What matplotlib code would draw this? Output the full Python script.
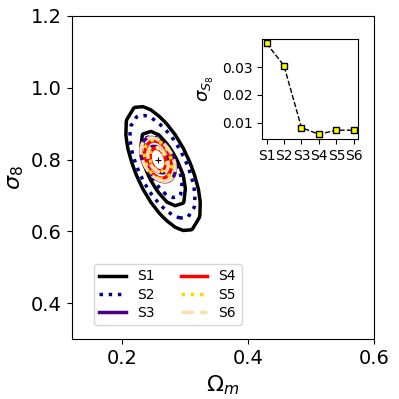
import numpy as np
import matplotlib as mpl
mpl.use('Agg')
import matplotlib.pyplot as plt
from matplotlib.lines import Line2D

# surveys and forecast errors on S8 (inset)
surveys = ['S1', 'S2', 'S3', 'S4', 'S5', 'S6']
sigma_s8 = [0.0386, 0.0305, 0.0082, 0.0058, 0.0073, 0.0073]

# gaussian contour parameters
om_mean = [0.265, 0.264, 0.257, 0.257, 0.257, 0.257]
s8_mean = [0.775, 0.780, 0.800, 0.800, 0.800, 0.800]
sig_om = [0.024, 0.021, 0.0112, 0.0085, 0.0088, 0.0110]
sig_s8 = [0.070, 0.058, 0.0250, 0.021, 0.022, 0.0245]
rho = [-0.62, -0.62, -0.4, -0.3, -0.3, -0.4]
fiducial = (0.257, 0.80)

colors = ['black', 'darkblue', 'indigo', 'red', 'gold', 'navajowhite']
styles = ['-', ':', '-', '-', ':', '--']
levels = [2.30, 6.17]  # 1 and 2 sigma in 2D

fig = plt.figure(figsize=(3.99, 3.99), dpi=100)
ax = fig.add_axes([0.18, 0.150, 0.757, 0.81])

handles = []
for i, name in enumerate(surveys):
    # coarse grid, like a sampled likelihood
    x = np.linspace(om_mean[i] - 4 * sig_om[i], om_mean[i] + 4 * sig_om[i], 16)
    y = np.linspace(s8_mean[i] - 4 * sig_s8[i], s8_mean[i] + 4 * sig_s8[i], 16)
    X, Y = np.meshgrid(x, y)
    dx = (X - om_mean[i]) / sig_om[i]
    dy = (Y - s8_mean[i]) / sig_s8[i]
    chi2 = (dx**2 + dy**2 - 2 * rho[i] * dx * dy) / (1 - rho[i]**2)
    ax.contour(X, Y, chi2, levels=levels, colors=colors[i],
               linestyles=styles[i], linewidths=2.5)
    handles.append(Line2D([], [], color=colors[i], ls=styles[i], lw=2.5,
                          label=name))

ax.plot(*fiducial, '+', color='k', ms=5, mew=0.8)

ax.set_xlim(0.12, 0.6)
ax.set_ylim(0.3, 1.2)
ax.set_xticks([0.2, 0.4, 0.6])
ax.set_yticks([0.4, 0.6, 0.8, 1.0, 1.2])
ax.tick_params(labelsize=14)
ax.set_xlabel(r'$\Omega_m$', fontsize=16)
ax.set_ylabel(r'$\sigma_8$', fontsize=16)
ax.legend(handles=handles, ncol=2, fontsize=10, loc='lower left',
          bbox_to_anchor=(0.073, 0.043), borderaxespad=0, handlelength=1.9,
          columnspacing=1.9, labelspacing=0.3)

# inset with sigma(S8)
ins = fig.add_axes([0.657, 0.652, 0.241, 0.251])
ins.plot(surveys, sigma_s8, 's--', color='k', mfc='yellow', mec='k', ms=4,
         lw=1)
ins.set_yticks([0.01, 0.02, 0.03])
ins.tick_params(labelsize=10)
ins.set_ylabel(r'$\sigma_{S_8}$', fontsize=13)

fig.savefig('out.png', dpi=100)
